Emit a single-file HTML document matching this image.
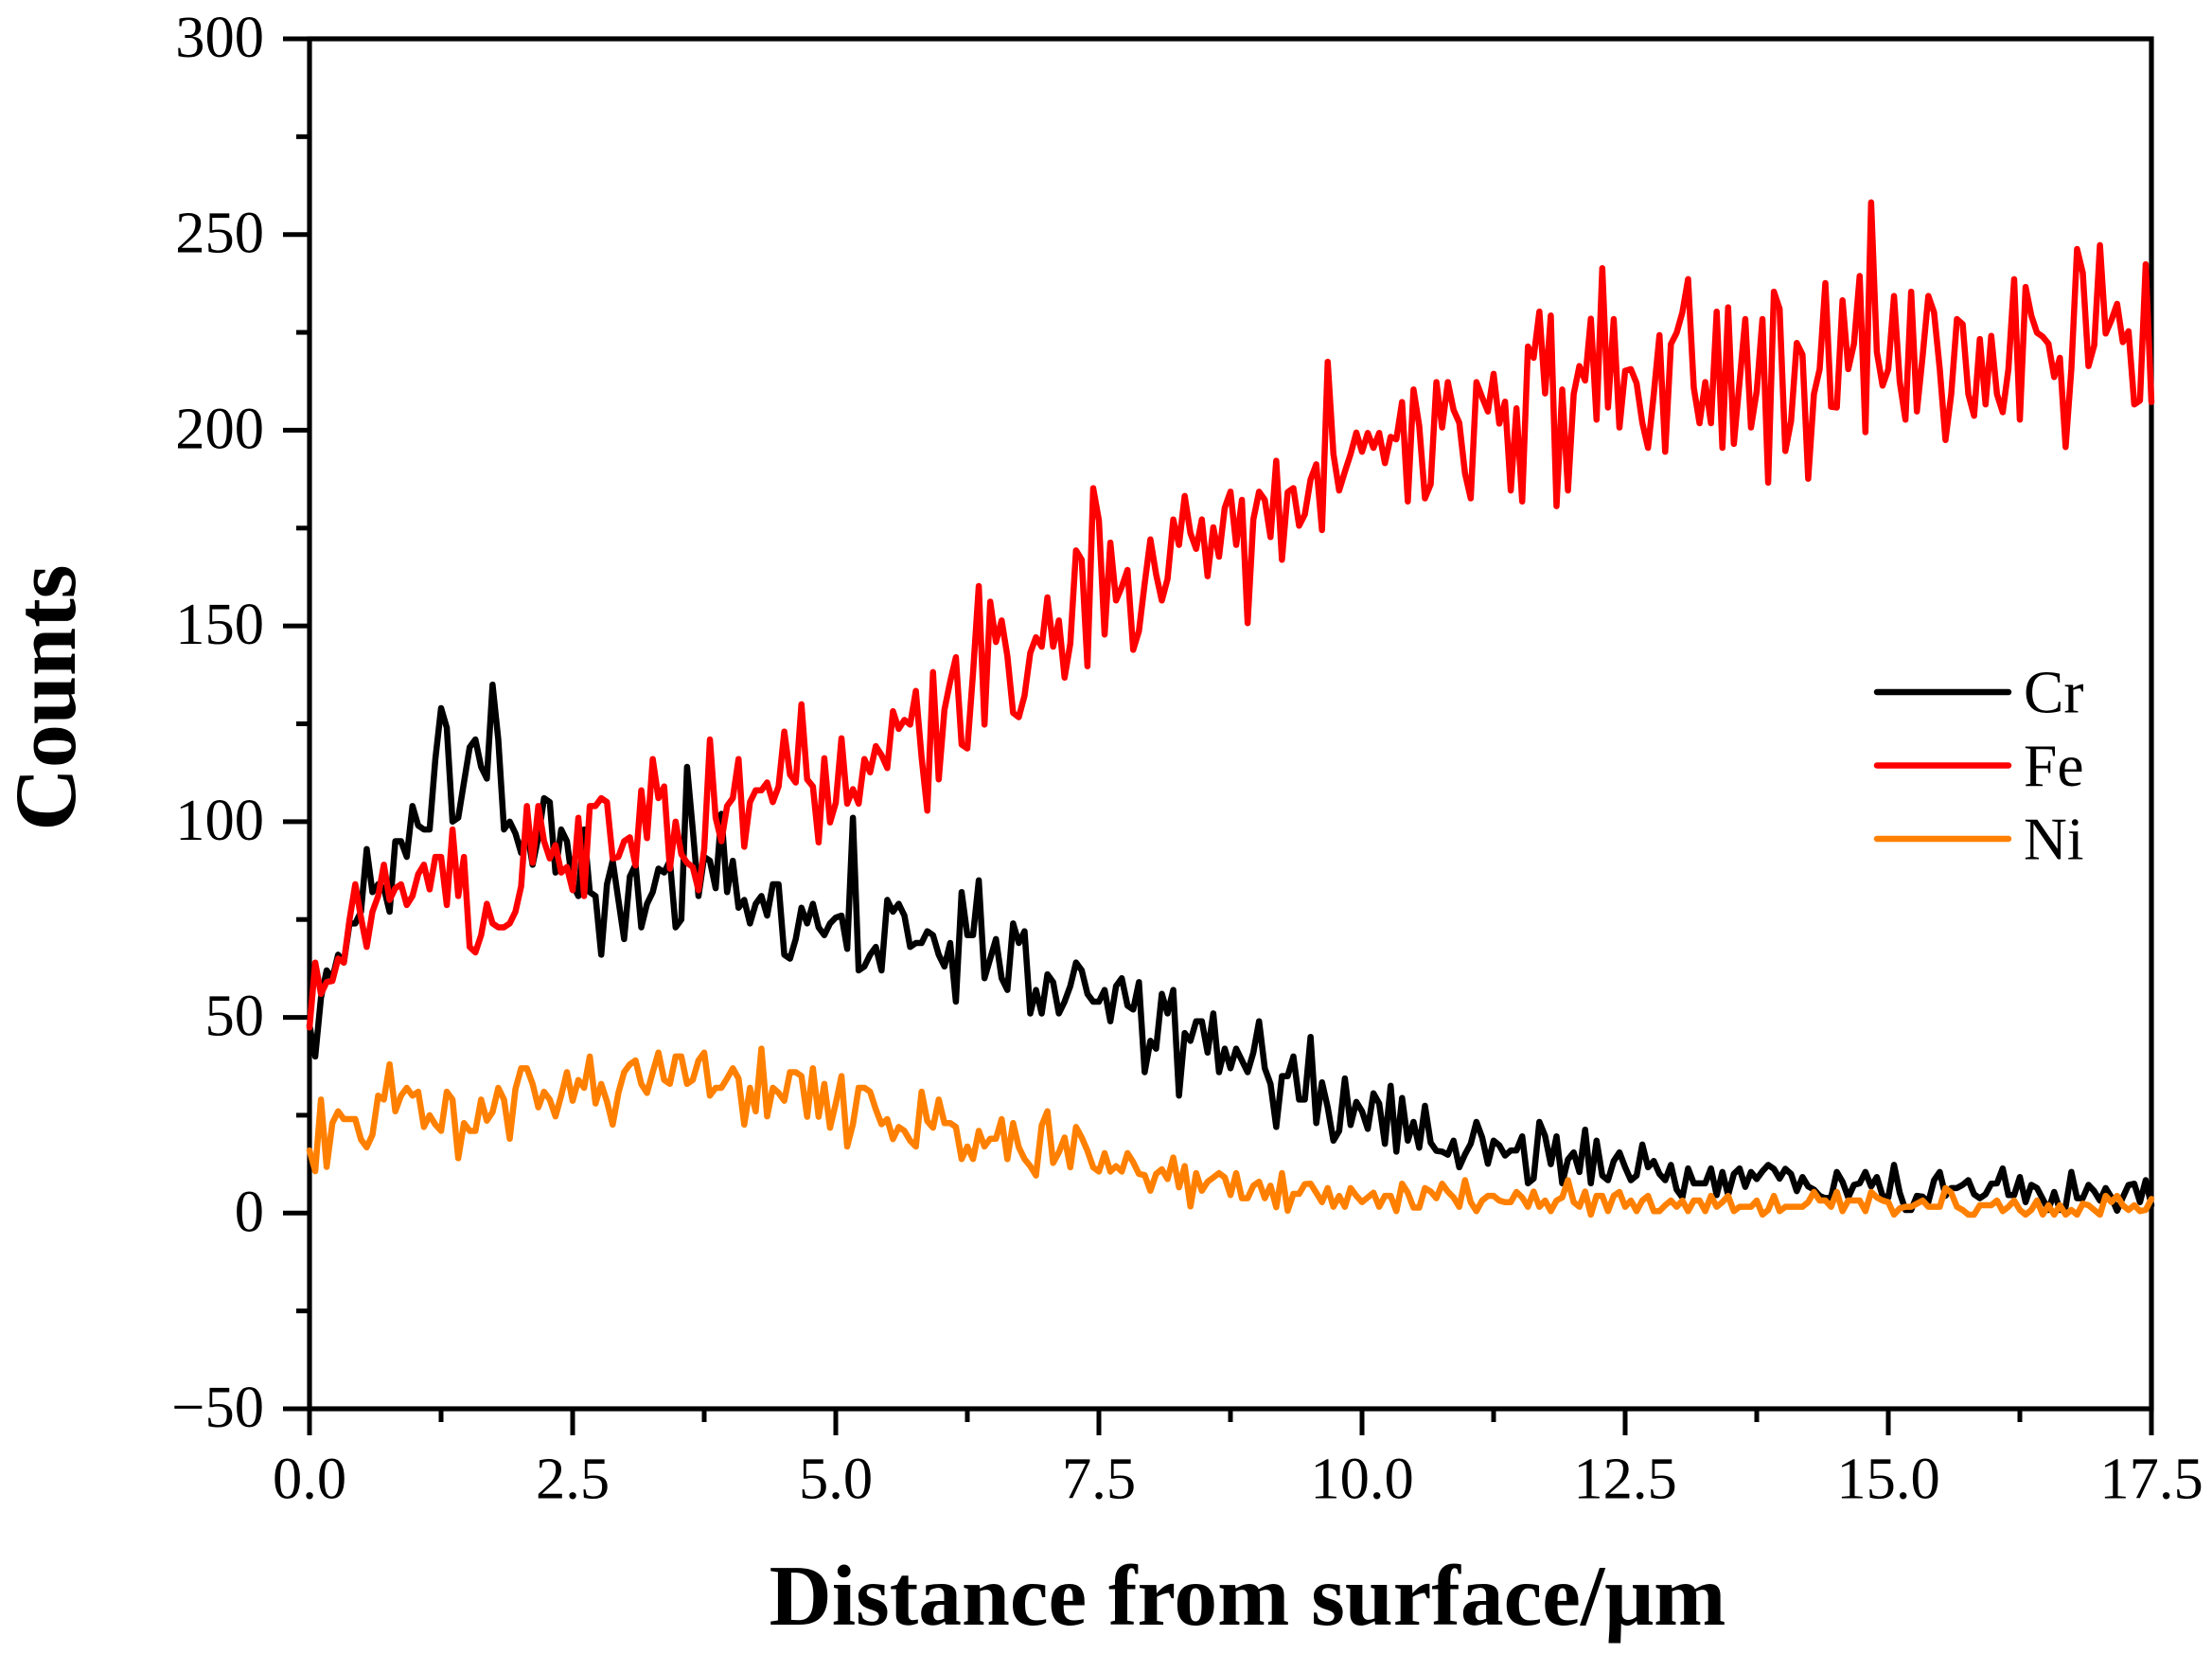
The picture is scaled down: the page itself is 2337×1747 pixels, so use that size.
<!DOCTYPE html>
<html lang="en">
<head>
<meta charset="utf-8">
<title>Counts vs distance from surface</title>
<style>
html,body{margin:0;padding:0;background:#fff;width:2337px;height:1747px;overflow:hidden}
svg{display:block}
text{font-family:"Liberation Serif",serif;fill:#000}
</style>
</head>
<body>
<svg id="chart" xmlns="http://www.w3.org/2000/svg" width="2337" height="1747" viewBox="0 0 2337 1747">
  <rect x="0" y="0" width="2337" height="1747" fill="#fff"/>
  <g id="axes"></g>
  <g id="series"></g>
  <g id="legend"></g>
  <text x="1318" y="1716" text-anchor="middle" font-size="91.5" font-weight="700">Distance from surface/μm</text>
  <text transform="translate(79 737) rotate(-90)" text-anchor="middle" font-size="92" font-weight="700">Counts</text>
</svg>
<script>
const distanceStep = 17.5 / 322;
const xTickLabels = ["0.0","2.5","5.0","7.5","10.0","12.5","15.0","17.5"];
const yTickLabels = ["−50","0","50","100","150","200","250","300"];
const seriesNames = ["Cr","Fe","Ni"];
const crCounts = [
48,40,55,62,60,66,64,74,74,77,
93,82,84,83,77,95,95,91,104,99,
98,98,116,129,124,100,101,110,119,121,
114,111,135,121,98,100,97,92,98,89,
96,106,105,87,98,95,84,81,98,82,
81,66,84,90,80,70,86,89,73,79,
82,88,87,90,73,75,114,98,81,91,
90,83,102,82,90,78,80,74,79,81,
76,84,84,66,65,70,78,74,
79,73,71,74,75.5,76,67.5,101,62,63,
66,68,62,80,77,79,76,68,69,69,
72,71,66,63,69,54,82,71,71,85,
60,65,70,60,57,74,69,72,51,57,
51,61,59,51,54,58,64,62,56,54,
54,57,49,58,60,53,52,59,36,44,
42,56,51,57,30,46,44,49,49,41,
51,36,42,37,42,39,36,41,49,37,
33,22,35,35,40,29,29,45,23,
33.4,27,18.5,21,34.4,22.5,28.4,26,21.5,30.6,28,17.7,32.5,15.7,29.4,18.5,23.3,16.7,27.4,18,
15.9,15.7,14.9,18.5,11.7,15,17.7,23.3,19.3,12.6,18.5,17.3,14.7,16,16,19.6,7.6,8.8,23.3,19.7,
12.5,19.6,7.6,13.7,15.5,10.5,21.3,7.6,18.5,9.6,8.4,13.3,15.5,11.7,8.4,9.6,17.5,11.7,13.3,10,
8.4,12.3,6,4,11.4,7.6,7.6,7.6,11.4,4.6,10.5,4.6,10,11.4,6.7,10.5,8.7,10.7,12.3,11.3,
8.8,11.3,10,5.6,9.2,6.8,6,4.4,3.8,4,10.5,8,4,7.2,7.6,10.5,6.8,9.2,4.4,4,
12.3,5.2,0.8,0.8,4.4,4.2,2.8,8.4,10.5,4.4,6.4,6.4,7.2,8.4,4.8,3.8,4.8,7.5,7.6,11.4,
4.6,4.6,9.2,2.8,7.2,6.4,3.6,0.8,5.4,0.8,1.6,10.5,3.8,3.8,7.2,5.6,3.2,6.4,4,0.6,
4,7.2,7.5,2.8,8.4,2
];
const feCounts = [
47.4,64,56,59,59.3,65,64,75,84,75.5,
68,77,81,89,80,83,84,78.7,81,86.6,
89,82.7,91,91,78.7,98,81,91,68,66.6,
71,79,74,73,73,74,77,83.5,104,89.5,
104,95,90.6,94,87,88.4,82.5,101,81,104,
104,106,105,90.6,91,95,96,88.8,108,95.8,
116,106,109,88,100,91.7,89.5,88.4,82.5,93,
121,101,95,104,106,116,93.6,105,108,108,
110,105,109,123,112,110,130,110.8,109,
94.7,116.2,99.8,104.8,121.3,104.6,108.3,104.6,116,112.6,
119.3,117,113.7,128.2,123.7,126,124.8,133.4,116.5,102.8,
138.2,110.8,128.6,135.8,142,119.7,118.7,138,160.2,124.8,
156.2,145.9,151.4,142.3,127.8,126.7,132.2,143.1,147.1,144.7,
157.3,144.7,151.4,136.8,145.5,169.3,166.9,139.7,185.2,177,
147.8,171.3,156.5,160,164.3,143.9,148.7,160.8,172.1,163.2,
156.5,162,177.2,170.7,183.2,173.7,169.7,177.2,162.7,175.2,
167.7,180.2,184.3,170.7,182.2,150.7,177.2,184.3,182.2,172.7,
192.2,166.9,184.2,185.2,175.6,178.5,187.4,191.3,174.5,
217.5,193.9,184.6,189.4,193.9,199.4,194.5,199.3,195.5,199.3,
191.6,198.3,197.7,207.2,181.8,210.4,201.1,182.6,186.2,212.3,
200.7,212.3,205.2,201.9,189,182.6,212.3,208.4,204.8,214.4,
201.7,207.3,184.6,205.6,181.8,221.4,218.5,230.3,209.4,229.3,
180.6,210.4,184.6,209.2,216.4,212.7,228.5,202.7,241.4,205.8,
228.4,200.7,215.2,215.6,212,201.9,195.5,209.2,224.3,194.5,
222,224.9,230.1,238.6,210.8,201.8,212.3,201.8,230.3,195.5,
231.4,196.5,212.4,228.4,200.7,210,228.4,186.6,235.4,231,
194.7,202.3,222.3,219.3,187.6,209.2,215.6,237.6,206,205.8,
233.2,215.6,222.1,239.4,199.5,258.2,220,211.4,215.6,234.3,
212.4,202.7,235.4,204.8,218.9,234.3,230.1,215.6,197.5,209.2,
228.4,227.1,209.2,203.7,223.3,206.6,224.1,209.2,204.6,215.6,
238.6,202.7,236.6,229.3,224.9,223.9,222.1,213.6,218.5,195.7,
215.6,246.3,240.2,216.4,221.7,247.3,224.7,228.1,232.3,222.5,
225.3,206.6,207.6,242.4,207.2
];
const niCounts = [
16,10.7,29,11.8,23,26,24,24,24,18.8,
16.8,20,30,29,38,26,30,32,30,31,
22,25,22.6,21,31,29,14,23,21,21,
29,23.6,25.8,32,29,19,31.7,37,37,33,
27,31,29,24.7,30,36,28.7,34,32,40,
28,33,28.5,22.6,30.7,36,38,39,33,30.7,
36,41,34,33,40,40,33,34,39,41,
30,32,32,34.4,37,34.4,22.6,32,26,42,
24.7,32,30.7,28.7,36,36,
35,24.6,37,24.6,33,21.8,28,35,17,22.7,
32,32,31,26.5,22.7,24,18.9,22,21,18.5,
17,31,23.5,21.8,29,23,23,22,13.8,17,
13.8,21,17,19,19,24,13.8,23,16.8,13.8,
12,9.6,22.4,26,12.8,15.5,19.3,11.7,22,19.3,
15.9,11.7,10.6,15.3,10.6,12,10.6,15.3,13,10,
9.7,5.7,10,11.2,8.7,14.2,6.6,12,1.7,10.2,
5.7,8,9.1,10.2,9.1,4.6,10.2,3.8,3.8,7,
8,3.8,7,1.5,10.2,0.6,4.9,4.9,7.4,
7.5,5.2,2.8,6.4,1.6,4.4,1.6,6.4,4.4,2.8,
4,5.2,1.6,4.4,4.4,0.5,7.5,5.2,1.4,1.4,
6.4,5.5,3.8,7.5,5.5,4,1.6,8.4,2.8,0.5,
3.2,4.4,4.4,3.2,2.8,2.8,5.4,4,1.6,5.5,
1.6,3.2,0.5,3.2,4,8.4,2.8,1.6,5.5,-0.4,
4.4,4.4,0.5,4.4,5.4,1.6,3.2,0.5,3.2,4.4,
0.5,0.5,2,3.2,1.6,3.2,0.5,3.2,3.2,0.5,
4.4,1.6,2.8,4.4,0.5,1.6,1.6,1.6,3.2,-0.4,
0.8,4.4,0.5,1.6,1.6,1.6,1.6,2.8,5.4,3.2,
3.2,1.6,5.4,0.5,3.2,3.2,3.2,0.5,5.4,4,
3.2,2.8,-0.4,1.2,1.6,1.6,2.4,3.2,1.6,1.6,
1.6,6.4,5.2,1.6,0.8,-0.4,-0.4,2,2,2,
3.2,0.5,1.6,3.2,0.8,-0.4,0.8,3.2,-0.4,2,
-0.4,2,-0.4,0.8,-0.4,2.4,2,0.8,-0.4,4.4,
2.8,4.4,2,0.8,2,0.5,0.8,3.6
];

const NS = 'http://www.w3.org/2000/svg';
const plot = {left:327, right:2273, top:41, bottom:1488};
const xMin = 0, xMax = 17.5, yMin = -50, yMax = 300;
function xScale(v){ return plot.left + (v - xMin) / (xMax - xMin) * (plot.right - plot.left); }
function yScale(v){ return plot.bottom - (v - yMin) / (yMax - yMin) * (plot.bottom - plot.top); }
function make(tag, attrs){
  const el = document.createElementNS(NS, tag);
  for (const k in attrs) el.setAttribute(k, attrs[k]);
  return el;
}
const axes = document.getElementById('axes');
const seriesGroup = document.getElementById('series');
const legend = document.getElementById('legend');

// frame
const frame = make('rect', {x:plot.left, y:plot.top, width:plot.right-plot.left, height:plot.bottom-plot.top, fill:'none', stroke:'#000', 'stroke-width':5.2});


axes.appendChild(frame);

// x ticks and labels
xTickLabels.forEach(function(label, i){
  const value = parseFloat(label);
  const px = xScale(value);
  const tick = make('line', {x1:px, x2:px, y1:plot.bottom, y2:plot.bottom+28, stroke:'#000', 'stroke-width':5});
  
  
  axes.appendChild(tick);
  const text = make('text', {x:px, y:1582.5, 'text-anchor':'middle', 'font-size':62.5});
  text.textContent = label;
  
  
  axes.appendChild(text);
  if (i < xTickLabels.length - 1) {
    const next = parseFloat(xTickLabels[i+1]);
    const mid = xScale((value + next) / 2);
    const minor = make('line', {x1:mid, x2:mid, y1:plot.bottom, y2:plot.bottom+14, stroke:'#000', 'stroke-width':5});
    
    
    axes.appendChild(minor);
  }
});

// y ticks and labels
yTickLabels.forEach(function(label, i){
  const value = parseFloat(label.replace('−','-'));
  const py = yScale(value);
  const tick = make('line', {x1:plot.left-28, x2:plot.left, y1:py, y2:py, stroke:'#000', 'stroke-width':5});
  
  
  axes.appendChild(tick);
  const text = make('text', {x:279, y:py+19, 'text-anchor':'end', 'font-size':62.5});
  text.textContent = label;
  
  
  axes.appendChild(text);
  if (i < yTickLabels.length - 1) {
    const next = parseFloat(yTickLabels[i+1]);
    const mid = yScale((value + next) / 2);
    const minor = make('line', {x1:plot.left-14, x2:plot.left, y1:mid, y2:mid, stroke:'#000', 'stroke-width':5});
    
    
    axes.appendChild(minor);
  }
});

// series
function pointsFor(values){
  return values.map(function(v, i){
    return xScale(i * distanceStep).toFixed(2) + ',' + yScale(v).toFixed(2);
  }).join(' ');
}
const baseLine = {fill:'none', 'stroke-width':6.5, 'stroke-linejoin':'round', 'stroke-linecap':'round'};
const crLine = make('polyline', Object.assign({points:pointsFor(crCounts), stroke:'#000000'}, baseLine));


seriesGroup.appendChild(crLine);
const feLine = make('polyline', Object.assign({points:pointsFor(feCounts), stroke:'#ff0000'}, baseLine));


seriesGroup.appendChild(feLine);
const niLine = make('polyline', Object.assign({points:pointsFor(niCounts), stroke:'#ff8000'}, baseLine));


seriesGroup.appendChild(niLine);

// legend
const legendColors = ['#000000', '#ff0000', '#ff8000'];
seriesNames.forEach(function(name, i){
  const ly = 731 + i * 77.5;
  const swatch = make('line', {x1:1983, x2:2122, y1:ly, y2:ly, stroke:legendColors[i], 'stroke-width':6.5, 'stroke-linecap':'round'});
  
  
  legend.appendChild(swatch);
  const label = make('text', {x:2138, y:ly+21.5, 'font-size':63.5});
  label.textContent = name;
  
  
  legend.appendChild(label);
});
</script>
</body>
</html>
